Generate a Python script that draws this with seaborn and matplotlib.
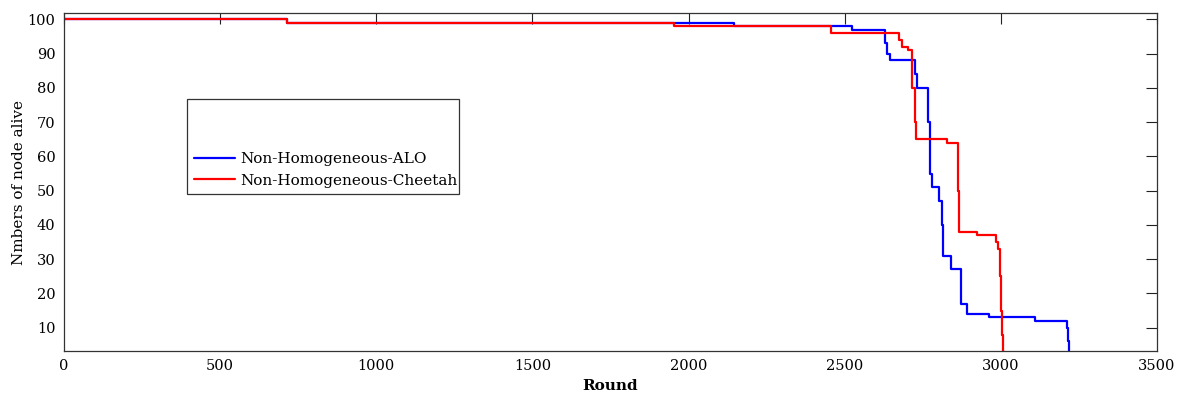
import matplotlib
matplotlib.use("Agg")
import matplotlib.pyplot as plt
import seaborn as sns
import pandas as pd
from matplotlib.patches import Rectangle

# Alive-node counts per round for the two clustering schemes
alo_rounds = [0, 714, 1952, 2145, 2524, 2629, 2635, 2645, 2725, 2731, 2767, 2773, 2778,
              2802, 2810, 2815, 2839, 2871, 2874, 2891, 2962, 3109, 3212, 3215, 3218]
alo_alive = [100, 99, 99, 98, 97, 93, 90, 88, 84, 80, 70, 55, 51,
             47, 40, 31, 27, 20, 17, 14, 13, 12, 10, 6, 0]

cheetah_rounds = [0, 714, 1952, 2456, 2674, 2682, 2703, 2716, 2725, 2729, 2731, 2827, 2862,
                  2866, 2923, 2986, 2990, 2996, 3000, 3004, 3008, 3012]
cheetah_alive = [100, 99, 98, 96, 94, 92, 91, 80, 70, 65, 65, 64, 50,
                 38, 37, 35, 33, 25, 15, 8, 3, 0]

series_names = ["Non-Homogeneous-ALO", "Non-Homogeneous-Cheetah"]
series_colors = ["#0000ff", "#ff0000"]

x_ticks = [0, 500, 1000, 1500, 2000, 2500, 3000, 3500]
y_ticks = [10, 20, 30, 40, 50, 60, 70, 80, 90, 100]

sns.set_style("white")
plt.rcParams["font.family"] = ["DejaVu Serif"]
plt.rcParams["text.color"] = "black"
plt.rcParams["axes.labelcolor"] = "black"

df = pd.concat([
    pd.DataFrame({"Round": alo_rounds, "Alive": alo_alive, "Scheme": series_names[0]}),
    pd.DataFrame({"Round": cheetah_rounds, "Alive": cheetah_alive, "Scheme": series_names[1]}),
])

fig = plt.figure(figsize=(11.8, 3.94), dpi=100)
ax = fig.add_axes([0.0542, 0.1091, 0.9263, 0.8571])

sns.lineplot(data=df, x="Round", y="Alive", hue="Scheme", hue_order=series_names,
             palette=series_colors, drawstyle="steps-post", linewidth=1.6,
             sort=False, estimator=None, legend=False, ax=ax)

ax.set_xlim(0, 3500)
ax.set_ylim(3.2, 101.75)
ax.set_xticks(x_ticks)
ax.set_yticks(y_ticks)
ax.tick_params(direction="in", length=8, width=0.8, top=True, right=True,
               labelsize=10.5, colors="#222222", labelcolor="black", pad=6)
for sp in ax.spines.values():
    sp.set_color("#333333")
    sp.set_linewidth(0.9)

ax.set_xlabel("Round", fontsize=11, fontweight="bold", labelpad=4)
ax.set_ylabel("Nmbers of node alive", fontsize=11, labelpad=1)

# Legend box with the entries sitting in its lower part
box = Rectangle((0.1124, 0.466), 0.2489, 0.281, transform=ax.transAxes,
                facecolor="white", edgecolor="#333333", linewidth=0.9, zorder=5)
ax.add_patch(box)
handles = [plt.Line2D([], [], color=c, linewidth=1.6) for c in series_colors]
ax.legend(handles, series_names, loc="lower left", bbox_to_anchor=(0.116, 0.475),
          frameon=False, fontsize=11, handlelength=2.7, handletextpad=0.35,
          labelspacing=0.5, borderaxespad=0, borderpad=0.2)

fig.savefig("out.png", dpi=100)
